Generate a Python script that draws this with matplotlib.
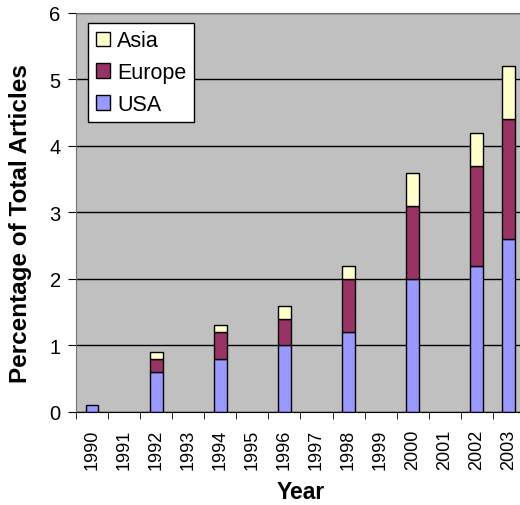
import matplotlib.pyplot as plt
import numpy as np

plt.rcParams['font.family'] = ['Liberation Sans', 'DejaVu Sans']

years = ['1990', '1991', '1992', '1993', '1994', '1995', '1996',
         '1997', '1998', '1999', '2000', '2001', '2002', '2003']
usa = [0.1, 0, 0.6, 0, 0.8, 0, 1.0, 0, 1.2, 0, 2.0, 0, 2.2, 2.6]
europe = [0, 0, 0.2, 0, 0.4, 0, 0.4, 0, 0.8, 0, 1.1, 0, 1.5, 1.8]
asia = [0, 0, 0.1, 0, 0.1, 0, 0.2, 0, 0.2, 0, 0.5, 0, 0.5, 0.8]

x = np.arange(len(years))
usa = np.array(usa)
europe = np.array(europe)
asia = np.array(asia)

fig = plt.figure(figsize=(5.2, 5.06), dpi=100)
ax = fig.add_axes([0.146, 0.184, 0.8635, 0.7885])
ax.set_facecolor('#C0C0C0')
ax.set_axisbelow(True)
ax.yaxis.grid(True, color='black', lw=1)

# stacked segments, empty years left out so no flat bars show up
w = 0.4
series = [(usa, np.zeros(len(x)), '#9999FF', 'USA'),
          (europe, usa, '#993366', 'Europe'),
          (asia, usa + europe, '#FFFFCC', 'Asia')]
for vals, base, col, name in series:
    m = vals > 0
    ax.bar(x[m], vals[m], w, bottom=base[m], color=col, edgecolor='black', lw=1, label=name)

ax.set_xlim(-0.5, len(years) - 0.5)
ax.set_ylim(0, 6)
ax.set_yticks(range(7))
ax.set_xticks(x)
ax.set_xticklabels(years, rotation=90)
ax.set_xticks(np.arange(-0.5, len(years)), minor=True)
ax.tick_params(axis='x', which='major', length=0, pad=12, labelsize=13)
ax.tick_params(axis='x', which='minor', length=5, direction='out')
ax.tick_params(axis='y', length=6, direction='out', labelsize=14.5, pad=5)

for s in ['left', 'top']:
    ax.spines[s].set_color('#707070')
ax.spines['right'].set_visible(False)
ax.spines['bottom'].set_color('black')

ax.set_xlabel('Year', fontsize=16.5, fontweight='bold', labelpad=8)
ax.set_ylabel('Percentage of Total Articles', fontsize=17.5, fontweight='bold')
ax.yaxis.set_label_coords(-0.097, 0.475)

h, l = ax.get_legend_handles_labels()
leg = ax.legend(h[::-1], l[::-1], loc='upper left', bbox_to_anchor=(0.027, 0.975),
                borderaxespad=0, fancybox=False, framealpha=1, edgecolor='black',
                fontsize=15.5, handlelength=0.65, handleheight=0.65, handletextpad=0.35,
                labelspacing=0.5, borderpad=0.35)
leg.get_frame().set_linewidth(1)

fig.savefig('out.png', dpi=100)
